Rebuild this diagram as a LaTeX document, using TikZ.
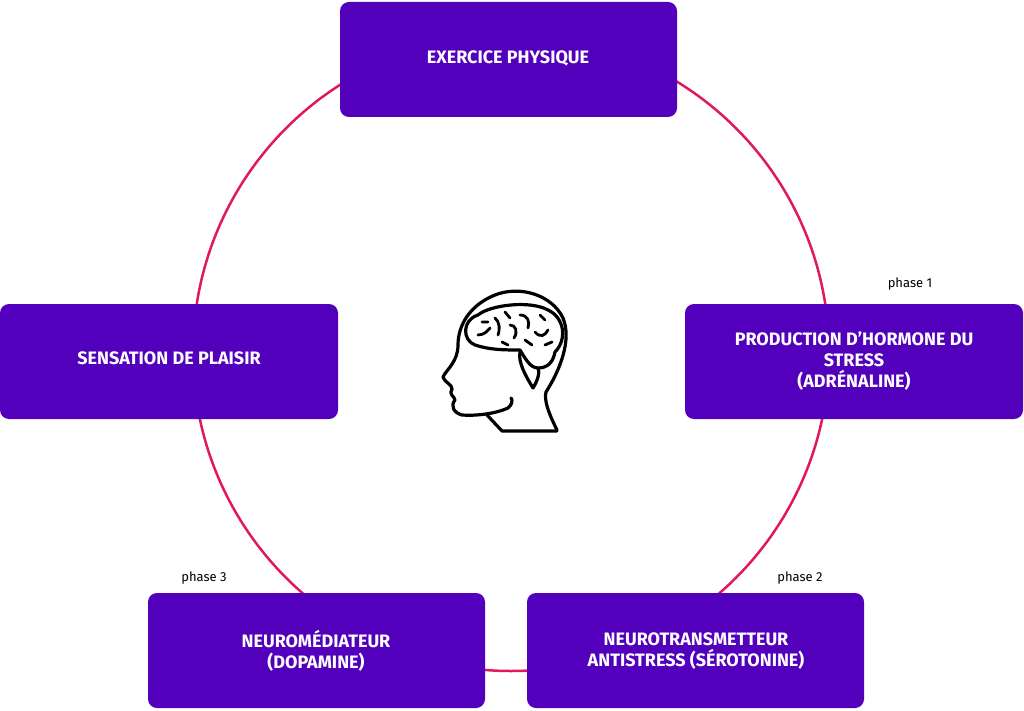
\documentclass[tikz,border=0pt]{standalone}
\usepackage{fontspec}
\setmainfont{Fira Sans}
\begin{document}
\begin{tikzpicture}[x=1pt,y=-1pt,
 box/.style={fill=boxc,rounded corners=9pt,draw=none},
 lbl/.style={text=white,font=\fontsize{18}{21}\selectfont\bfseries,align=center},
 ph/.style={font=\fontsize{13}{15}\selectfont,text=black},
 ic/.style={line width=3.2pt,line cap=round,line join=round}]
\definecolor{boxc}{HTML}{5200BC}
\definecolor{circ}{HTML}{E0185F}
\useasboundingbox (0,0) rectangle (1024,711);
\draw[circ,line width=2.5pt] (511,353) circle (318);
\filldraw[box] (340,2) rectangle (677,117);
\filldraw[box] (685,304) rectangle (1023,419);
\filldraw[box] (0,304) rectangle (338,419);
\filldraw[box] (148,593) rectangle (485,708);
\filldraw[box] (527,593) rectangle (864,708);
\node[lbl] (t) at (508,58) {EXERCICE PHYSIQUE};
\node[lbl] (r) at (854,361) {PRODUCTION D’HORMONE DU\\STRESS\\(ADRÉNALINE)};
\node[lbl] (l) at (169,358) {SENSATION DE PLAISIR};
\node[lbl] (bl) at (316,651) {NEUROMÉDIATEUR\\(DOPAMINE)};
\node[lbl] (br) at (696,651) {NEUROTRANSMETTEUR\\ANTISTRESS (SÉROTONINE)};
\node[ph] (p1) at (910,284) {phase 1};
\node[ph] (p2) at (800,578) {phase 2};
\node[ph] (p3) at (204,578) {phase 3};
% head icon
\draw[ic] (557,430) .. controls (548,412) and (544,400) .. (546,392)
  .. controls (560,370) and (572,340) .. (563,318)
  .. controls (552,295) and (520,285) .. (495,295)
  .. controls (470,305) and (458,325) .. (458,345)
  .. controls (458,362) and (446,370) .. (443,377)
  .. controls (446,384) and (452,384) .. (452,389)
  .. controls (448,394) and (455,397) .. (455,400)
  .. controls (450,406) and (454,413) .. (462,415)
  .. controls (475,416) and (495,414) .. (508,408)
  .. controls (512,405) and (513,400) .. (511,398);
\draw[ic] (487,415) -- (502,431) -- (557,431);
% brain
\draw[ic] (475,345) .. controls (462,340) and (462,320) .. (478,315)
  .. controls (490,305) and (530,300) .. (548,310)
  .. controls (565,318) and (567,340) .. (555,352)
  .. controls (553,362) and (548,368) .. (538,368)
  .. controls (530,368) and (525,358) .. (520,350)
  .. controls (505,350) and (490,350) .. (475,345);
\draw[ic] (520,352) .. controls (518,362) and (525,375) .. (533,388)
  .. controls (538,380) and (540,372) .. (538,368);
\draw[ic,line width=2.8pt] (482,322) -- (488,322) (478,335) .. controls (485,335) and (488,330) .. (490,328)
 (495,318) .. controls (500,322) and (500,330) .. (498,335)
 (505,312) -- (510,318) (510,325) .. controls (516,325) and (518,332) .. (514,338)
 (520,315) .. controls (528,315) and (530,322) .. (528,328)
 (535,332) .. controls (540,338) and (545,336) .. (548,330)
 (540,315) -- (545,320) (525,340) -- (532,345) (545,345) -- (552,342)
 (502,342) -- (508,345);
\end{tikzpicture}
\end{document}
